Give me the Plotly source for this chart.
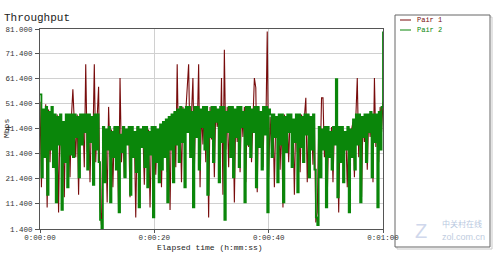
import plotly.graph_objects as go

SAMPLE_INTERVAL = 0.25  # seconds between samples

pair1 = [
    52, 18, 47, 35, 51, 10, 49, 28, 46, 40,
    45, 20, 47, 8, 46, 30, 44, 14, 47, 36, 45, 22,
    46, 57, 44, 30, 47, 15, 46, 38, 45, 26, 67, 32, 47, 20, 46, 35, 67, 28, 46, 58,
    10, 3,
    41, 25, 40, 12, 50, 30, 41, 18, 42, 33, 39, 8, 61.5, 28, 41, 22, 40, 35, 42, 14,
    41, 30, 39, 6, 42, 27, 41, 34, 40, 19, 42, 31, 41, 10, 40, 29, 42, 23, 41, 36,
    42, 18, 44, 32, 45, 24, 46, 9, 47, 30, 48, 26, 67,
    30, 49, 20, 50, 38, 48, 58, 67, 32, 49, 61.5, 25, 50, 40, 67, 18, 49, 35, 50, 28,
    48, 6, 50, 37, 49, 22, 50, 42, 48, 30, 61.5, 15, 72.7, 33, 50, 26, 49, 40, 50, 12,
    48, 36, 50, 24, 49, 38, 50, 20, 48, 34, 50, 28, 49, 61.5, 57.6, 16, 50, 36, 48, 26,
    50, 40, 80, 22,
    46, 33, 47, 18, 46, 38, 47, 25, 45, 10, 47, 35, 46, 28, 47, 40, 45, 15, 47, 32,
    46, 24, 47, 38, 46, 53.6, 20, 47, 34, 45, 27, 46,
    4, 8,
    41, 26, 53.6, 53.6, 30, 42, 14, 40, 33, 42, 20, 41, 36, 40, 8, 42, 28, 41, 33, 40,
    18, 42, 30, 41,
    44, 22, 46, 61.5, 30, 47, 14, 46, 36, 47, 25, 46, 38, 48, 20, 61.5, 34, 47, 28, 50, 40,
    52,
]

pair2 = [
    55, 22, 49, 30, 50, 15, 48, 33, 50, 26,
    47, 12, 46, 35, 47, 9, 44, 28, 47, 18, 47, 31,
    47, 30, 47, 38, 46, 22, 47, 35, 47, 40, 47, 25, 47, 36, 46, 19, 47, 33, 47, 28,
    5, 1.5,
    42, 20, 41, 33, 42, 12, 40, 30, 42, 25, 42, 8, 39, 32, 42, 22, 41, 35, 42, 15,
    42, 30, 40, 24, 42, 10, 41, 34, 42, 26, 42, 18, 40, 31, 42, 6, 42, 28, 41, 20,
    43, 25, 44, 30, 45, 12, 46, 33, 47, 20, 48, 35, 49,
    28, 50, 36, 49, 18, 50, 40, 50, 30, 48, 10, 50, 38, 50, 25, 49, 42, 50, 33, 50,
    15, 48, 38, 50, 28, 50, 44, 49, 20, 50, 36, 50, 5, 48, 40, 50, 30, 50, 22, 49,
    38, 50, 26, 50, 42, 48, 12, 50, 35, 50, 30, 49, 40, 50, 18, 50, 34, 48, 25, 50,
    39, 50, 8, 49,
    47, 30, 47, 38, 46, 20, 47, 35, 47, 12, 46, 32, 47, 40, 47, 26, 45, 36, 47, 16,
    47, 34, 46, 28, 47, 39, 47, 22, 46, 33, 47, 25,
    6, 3,
    42, 22, 41, 33, 42, 10, 42, 30, 40, 25, 42, 35, 61, 14, 42, 28, 42, 20, 40, 33,
    42, 8, 41, 30,
    45, 25, 47, 35, 47, 12, 46, 38, 47, 28, 47, 40, 48, 22, 47, 36, 47, 10, 48, 33, 50,
    80,
]

y_ticks = [1.4, 11.4, 21.4, 31.4, 41.4, 51.4, 61.4, 71.4, 81.0]
y_tick_labels = ["%.3f" % v for v in y_ticks]
x_ticks = [0, 20, 40, 60]
x_tick_labels = ["0:00:00", "0:00:20", "0:00:40", "0:01:00"]
series_names = ["Pair 1", "Pair 2"]
series_colors = ["#780c0c", "#0a860a"]

t1 = [i * SAMPLE_INTERVAL for i in range(len(pair1))]
t2 = [i * SAMPLE_INTERVAL for i in range(len(pair2))]

W, H = 500, 257
L, R, T, B = 40, 383, 29, 229

fig = go.Figure()
fig.add_trace(go.Scatter(x=t1, y=pair1, mode="lines", name=series_names[0],
                         line=dict(color=series_colors[0], width=1.1), showlegend=False))
fig.add_trace(go.Scatter(x=t2, y=pair2, mode="lines", name=series_names[1],
                         line=dict(color=series_colors[1], width=1.8, shape="hv"), showlegend=False))

mono = "Liberation Mono, DejaVu Sans Mono, monospace"


def px(xp):
    return (xp - L) / (R - L)


def py(yp):
    return (B - yp) / (B - T)


shapes = [
    dict(type="rect", xref="paper", yref="paper", x0=px(397), x1=px(492), y0=py(249), y1=py(17),
         line=dict(color="#c8c8c8", width=1), fillcolor="rgba(0,0,0,0)", layer="below"),
    dict(type="rect", xref="paper", yref="paper", x0=px(395), x1=px(490), y0=py(247), y1=py(15),
         line=dict(color="#666666", width=1), fillcolor="white", layer="below"),
]


def note(text, xp, yp, size, color="#222", family=mono, xanchor="center", angle=0):
    return dict(text=text, xref="paper", yref="paper", x=px(xp), y=py(yp), xanchor=xanchor,
                yanchor="middle", showarrow=False, textangle=angle,
                font=dict(family=family, size=size, color=color))


annotations = [
    note("Mbps", 6, 129, 8, angle=-90),
    note("Elapsed time (h:mm:ss)", 210, 247, 8),
    note("Z", 421, 231, 20, color="#d0d8ec", family="Liberation Sans"),
    note("中关村在线", 440, 223, 8, color="#b8c8e0", family="Noto Sans CJK SC", xanchor="left"),
    note("zol.com.cn", 440, 237, 9, color="#c0cce0", family="Liberation Sans", xanchor="left"),
]
for i, (name, col) in enumerate(zip(series_names, series_colors)):
    yy = 20 + i * 10
    shapes.append(dict(type="line", xref="paper", yref="paper", x0=px(400), x1=px(411),
                       y0=py(yy), y1=py(yy), line=dict(color=col, width=1)))
    annotations.append(note(name, 415, yy, 7, color=col, xanchor="left"))

axis_common = dict(showgrid=True, gridcolor="#d0d0d0", gridwidth=1, zeroline=False,
                   showline=True, linecolor="#555", linewidth=1, mirror=True,
                   ticks="outside", tickcolor="#555", automargin=False,
                   tickfont=dict(family=mono, size=7.5, color="#333"))

fig.update_layout(
    width=W, height=H,
    margin=dict(l=L, r=W - R, t=T, b=H - B, pad=0, autoexpand=False),
    paper_bgcolor="white", plot_bgcolor="white",
    title=dict(text="Throughput", x=4 / W, xref="container", xanchor="left",
               y=1 - 17 / H, yref="container", yanchor="middle",
               font=dict(family=mono, size=11, color="#222")),
    shapes=shapes, annotations=annotations,
    xaxis=dict(range=[0, 60], tickvals=x_ticks, ticktext=x_tick_labels, ticklen=3,
               ticklabelstandoff=-2, **axis_common),
    yaxis=dict(range=[1.4, 81], tickvals=y_ticks, ticktext=y_tick_labels, ticklen=4,
               ticklabelstandoff=1, **axis_common),
)

fig.write_html("out.html")
